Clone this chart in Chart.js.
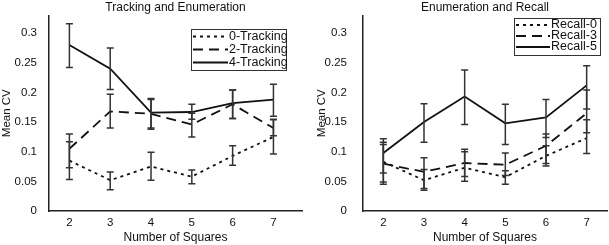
<!DOCTYPE html>
<html>
<head>
<meta charset="utf-8">
<script src="https://cdn.jsdelivr.net/npm/chart.js@4"></script>
<style>
  body { margin: 0; background: #fff; }
  #wrap { position: relative; width: 609px; height: 245px; }
  #left { position: absolute; left: 0; top: 0; }
  #right { position: absolute; left: 305px; top: 0; }
</style>
</head>
<body>
<div id="wrap">
  <canvas id="left" width="305" height="245"></canvas>
  <canvas id="right" width="304" height="245"></canvas>
</div>
<script>
const squares = [2, 3, 4, 5, 6, 7];
const yTicks = [0, 0.05, 0.1, 0.15, 0.2, 0.25, 0.3];

// Tracking and Enumeration
const tracking0 = [0.085, 0.052, 0.075, 0.058, 0.093, 0.125];
const tracking0Lo = [0.053, 0.036, 0.052, 0.046, 0.077, 0.096];
const tracking0Hi = [0.117, 0.066, 0.099, 0.069, 0.110, 0.155];
const tracking2 = [0.105, 0.168, 0.164, 0.146, 0.180, 0.140];
const tracking2Lo = [0.073, 0.140, 0.140, 0.125, 0.156, 0.127];
const tracking2Hi = [0.130, 0.197, 0.190, 0.165, 0.204, 0.154];
const tracking4 = [0.280, 0.240, 0.166, 0.167, 0.182, 0.188];
const tracking4Lo = [0.242, 0.205, 0.138, 0.155, 0.156, 0.160];
const tracking4Hi = [0.316, 0.275, 0.188, 0.180, 0.204, 0.214];

// Enumeration and Recall
const recall0 = [0.083, 0.052, 0.073, 0.057, 0.093, 0.123];
const recall0Lo = [0.045, 0.035, 0.050, 0.045, 0.076, 0.097];
const recall0Hi = [0.116, 0.070, 0.100, 0.068, 0.110, 0.154];
const recall3 = [0.080, 0.066, 0.081, 0.078, 0.110, 0.165];
const recall3Lo = [0.049, 0.038, 0.058, 0.060, 0.080, 0.132];
const recall3Hi = [0.112, 0.090, 0.104, 0.098, 0.130, 0.204];
const recall5 = [0.098, 0.150, 0.193, 0.148, 0.158, 0.212];
const recall5Lo = [0.064, 0.116, 0.146, 0.112, 0.124, 0.172];
const recall5Hi = [0.122, 0.181, 0.238, 0.180, 0.188, 0.245];

const FONT = '"Liberation Sans", Arial, sans-serif';
Chart.defaults.font.family = FONT;
Chart.defaults.color = '#222';

// vertical error bars with caps
const errorBars = {
  id: 'errorBars',
  afterDatasetsDraw(chart) {
    const ctx = chart.ctx;
    const xs = chart.scales.x, ys = chart.scales.y;
    ctx.save();
    ctx.strokeStyle = '#333';
    ctx.lineWidth = 1.5;
    chart.data.datasets.forEach(ds => {
      ds.errLo.forEach((lo, i) => {
        const x = xs.getPixelForValue(squares[i]);
        const y1 = ys.getPixelForValue(lo);
        const y2 = ys.getPixelForValue(ds.errHi[i]);
        ctx.beginPath();
        ctx.moveTo(x, y1); ctx.lineTo(x, y2);
        ctx.moveTo(x - 3.5, y1); ctx.lineTo(x + 3.5, y1);
        ctx.moveTo(x - 3.5, y2); ctx.lineTo(x + 3.5, y2);
        ctx.stroke();
      });
    });
    ctx.restore();
  }
};

// boxed legend inside the plot
const boxLegend = {
  id: 'boxLegend',
  afterDraw(chart, args, opts) {
    const ctx = chart.ctx;
    ctx.save();
    ctx.fillStyle = '#fff';
    ctx.fillRect(opts.x, opts.y, opts.w, opts.h);
    ctx.strokeStyle = '#333';
    ctx.lineWidth = 1;
    ctx.strokeRect(opts.x + 0.5, opts.y + 0.5, opts.w, opts.h);
    ctx.font = '12.5px ' + FONT;
    ctx.textBaseline = 'middle';
    chart.data.datasets.forEach((ds, i) => {
      const y = opts.y + opts.first + i * opts.rowH;
      ctx.strokeStyle = '#111';
      ctx.lineWidth = 1.8;
      ctx.setLineDash(ds.borderDash || []);
      ctx.beginPath();
      ctx.moveTo(opts.x + 2, y);
      ctx.lineTo(opts.x + opts.sample, y);
      ctx.stroke();
      ctx.setLineDash([]);
      ctx.fillStyle = '#111';
      ctx.fillText(ds.label, opts.x + opts.sample + 1, y);
    });
    ctx.restore();
  }
};

function series(label, vals, lo, hi, dash) {
  return {
    label: label,
    data: squares.map((s, i) => ({ x: s, y: vals[i] })),
    errLo: lo,
    errHi: hi,
    borderColor: '#111',
    borderWidth: 1.8,
    borderDash: dash,
    pointRadius: 0,
    tension: 0,
    fill: false
  };
}

function makeChart(id, title, datasets, xMax, yWidth, yPad, padRight, legend) {
  return new Chart(document.getElementById(id), {
    type: 'line',
    data: { datasets: datasets },
    plugins: [errorBars, boxLegend],
    options: {
      responsive: false,
      animation: false,
      layout: { padding: { left: 0, right: padRight, top: 0, bottom: 0 } },
      plugins: {
        legend: { display: false },
        tooltip: { enabled: false },
        title: {
          display: true,
          text: title,
          fullSize: false,
          color: '#111',
          font: { size: 12, weight: 'normal' },
          padding: { top: 0, bottom: 1 }
        },
        boxLegend: legend
      },
      scales: {
        x: {
          type: 'linear',
          min: 1.5,
          max: xMax,
          afterBuildTicks: s => { s.ticks = squares.map(v => ({ value: v })); },
          afterFit: s => { s.height = 34; },
          grid: { display: false },
          border: { display: true, color: '#222', width: 1.5 },
          ticks: { font: { size: 11.5 }, color: '#111', padding: -3, callback: v => String(v) },
          title: { display: true, text: 'Number of Squares', color: '#111', font: { size: 12 }, padding: { top: 0, bottom: 0 } }
        },
        y: {
          min: 0,
          max: 0.33,
          afterBuildTicks: s => { s.ticks = yTicks.map(v => ({ value: v })); },
          afterFit: s => { s.width = yWidth; },
          grid: { display: false },
          border: { display: true, color: '#222', width: 1.5 },
          ticks: { font: { size: 11.5 }, color: '#111', padding: yPad, callback: v => String(v) },
          title: { display: true, text: 'Mean CV', color: '#111', font: { size: 11.5 }, padding: { top: yWidth > 50 ? 10 : 0, bottom: 0 } }
        }
      }
    }
  });
}

makeChart('left', 'Tracking and Enumeration', [
  series('0-Tracking', tracking0, tracking0Lo, tracking0Hi, [3, 4]),
  series('2-Tracking', tracking2, tracking2Lo, tracking2Hi, [10, 6]),
  series('4-Tracking', tracking4, tracking4Lo, tracking4Hi, [])
], 7.7, 49, 4, 3, { x: 191, y: 29, w: 95, h: 41, first: 7.5, rowH: 13, sample: 37 });

makeChart('right', 'Enumeration and Recall', [
  series('Recall-0', recall0, recall0Lo, recall0Hi, [3, 4]),
  series('Recall-3', recall3, recall3Lo, recall3Hi, [10, 6]),
  series('Recall-5', recall5, recall5Lo, recall5Hi, [])
], 7.5, 58, 8, 2, { x: 209, y: 18, w: 86, h: 37, first: 7, rowH: 11, sample: 36 });
</script>
</body>
</html>
